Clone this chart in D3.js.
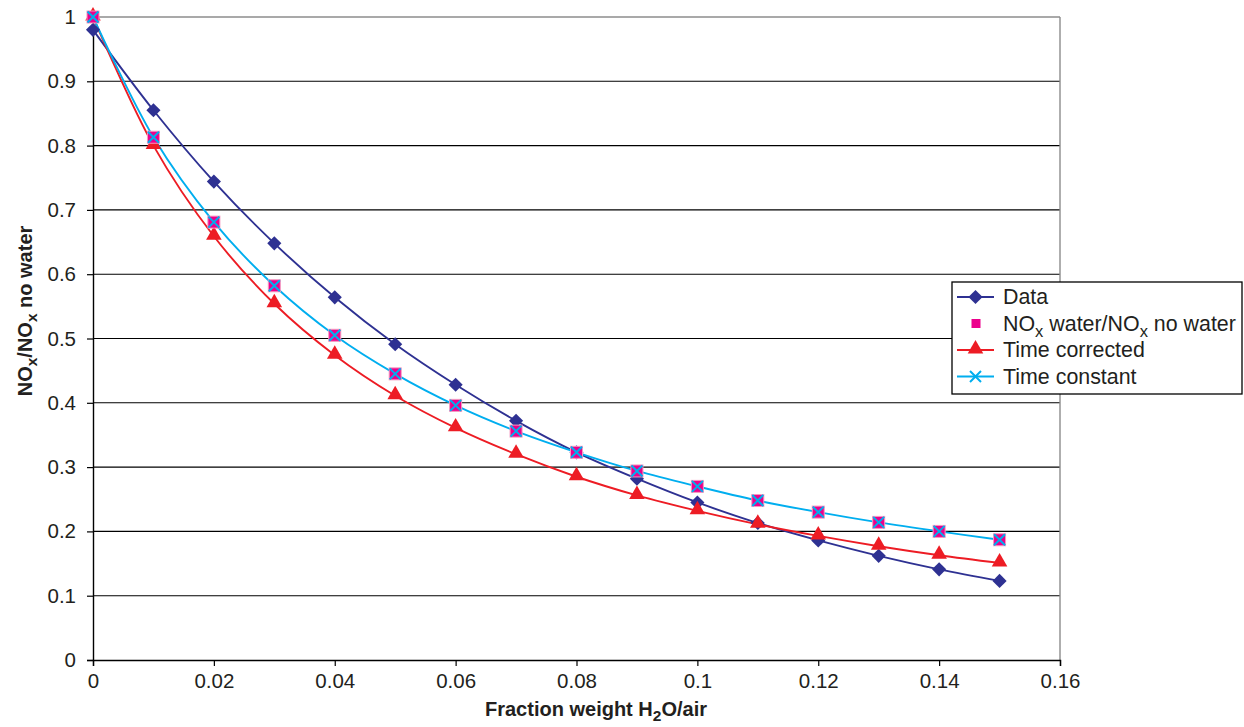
<!DOCTYPE html>
<html><head><meta charset="utf-8">
<script src="https://cdnjs.cloudflare.com/ajax/libs/d3/7.8.5/d3.min.js"></script>
<style>body{margin:0;background:#fff;} svg{display:block;font-family:Arial,"Liberation Sans",sans-serif;}</style>
</head><body>
<svg id="c" width="1244" height="727"></svg>
<script>
const xVals = [0,0.01,0.02,0.03,0.04,0.05,0.06,0.07,0.08,0.09,0.1,0.11,0.12,0.13,0.14,0.15];
const dataSeries = [0.980,0.855,0.744,0.648,0.564,0.491,0.428,0.372,0.323,0.282,0.245,0.213,0.186,0.162,0.141,0.123];
const noxRatio = [1.000,0.813,0.681,0.582,0.505,0.445,0.396,0.356,0.323,0.294,0.270,0.248,0.230,0.214,0.200,0.187];
const timeCorrected = [1.000,0.800,0.659,0.554,0.474,0.411,0.361,0.320,0.285,0.256,0.232,0.211,0.193,0.177,0.163,0.151];
const timeConstant = [1.000,0.813,0.681,0.582,0.505,0.445,0.396,0.356,0.323,0.294,0.270,0.248,0.230,0.214,0.200,0.187];
const xTicks = [0,0.02,0.04,0.06,0.08,0.1,0.12,0.14,0.16];
const yTicks = [0,0.1,0.2,0.3,0.4,0.5,0.6,0.7,0.8,0.9,1];

const svg = d3.select("#c");
const L=93, R=1060, T=17, B=660;
const x = d3.scaleLinear().domain([0,0.16]).range([L,R]);
const y = d3.scaleLinear().domain([0,1]).range([B,T]);
const txt = "#231f20";

// gridlines
svg.append("g").selectAll("line").data(yTicks.filter(d=>d>0&&d<1)).join("line")
  .attr("x1",L).attr("x2",R).attr("y1",d=>y(d)).attr("y2",d=>y(d))
  .attr("stroke","#000").attr("stroke-width",1.1);
// top and right border
svg.append("line").attr("x1",L).attr("x2",R).attr("y1",y(1)).attr("y2",y(1)).attr("stroke","#8c8c8c").attr("stroke-width",1.4);
svg.append("line").attr("x1",R).attr("x2",R).attr("y1",T).attr("y2",B).attr("stroke","#8c8c8c").attr("stroke-width",1.4);

// axes
const yAxis = d3.axisLeft(y).tickValues(yTicks).tickFormat(d3.format("~g")).tickSize(6).tickPadding(11);
const gy = svg.append("g").attr("transform",`translate(${L},0)`).call(yAxis);
const xAxis = d3.axisBottom(x).tickValues(xTicks).tickFormat(d3.format("~g")).tickSize(6).tickPadding(7);
const gx = svg.append("g").attr("transform",`translate(0,${B})`).call(xAxis);
[gx,gy].forEach(g=>{
  g.attr("font-size",null).attr("font-family",null);
  g.select(".domain").attr("stroke","#000").attr("stroke-width",1.4);
  g.selectAll(".tick line").attr("stroke","#000").attr("stroke-width",1.2);
  g.selectAll(".tick text").style("font-size","20.5px").attr("fill",txt);
});

// axis titles
const xt = svg.append("text").attr("x",596).attr("y",716).attr("text-anchor","middle")
  .style("font-size","20px").attr("font-weight","bold").attr("fill",txt);
xt.append("tspan").text("Fraction weight H");
xt.append("tspan").style("font-size","15.5px").attr("dy",5).text("2");
xt.append("tspan").attr("dy",-5).text("O/air");

const yt = svg.append("text").attr("transform",`translate(32,311) rotate(-90)`).attr("text-anchor","middle")
  .style("font-size","20px").attr("font-weight","bold").attr("fill",txt);
yt.append("tspan").text("NO");
yt.append("tspan").style("font-size","15.5px").attr("dy",5).text("x");
yt.append("tspan").attr("dy",-5).text("/NO");
yt.append("tspan").style("font-size","15.5px").attr("dy",5).text("x");
yt.append("tspan").attr("dy",-5).text(" no water");

const curve = d3.curveCatmullRom.alpha(0.5);
const line = vals => d3.line().curve(curve).x((d,i)=>x(xVals[i])).y(d=>y(d))(vals);

const cNavy="#2e3192", cMag="#ec008c", cRed="#ed1c24", cCyan="#00aeef";

svg.append("path").attr("d",line(dataSeries)).attr("fill","none").attr("stroke",cNavy).attr("stroke-width",1.9);
svg.append("path").attr("d",line(timeCorrected)).attr("fill","none").attr("stroke",cRed).attr("stroke-width",1.9);
svg.append("path").attr("d",line(timeConstant)).attr("fill","none").attr("stroke",cCyan).attr("stroke-width",1.9);

const sq = d3.symbol().type(d3.symbolSquare).size(100);
const tri = d3.symbol().type(d3.symbolTriangle).size(105);

function drawDiamond(g,cx,cy){g.append("path").attr("d",sq()).attr("transform",`translate(${cx},${cy}) rotate(45)`).attr("fill",cNavy);}
function drawSquare(g,cx,cy){g.append("rect").attr("x",cx-6).attr("y",cy-6).attr("width",12).attr("height",12).attr("fill",cMag).attr("stroke","#f49ac1").attr("stroke-width",1);}
function drawTri(g,cx,cy){g.append("path").attr("d",tri()).attr("transform",`translate(${cx},${cy-1})`).attr("fill",cRed);}
function drawX(g,cx,cy){g.append("path").attr("d",`M${cx-5.5},${cy-5.5}L${cx+5.5},${cy+5.5}M${cx-5.5},${cy+5.5}L${cx+5.5},${cy-5.5}`).attr("stroke",cCyan).attr("stroke-width",2);}

const gm = svg.append("g");
dataSeries.forEach((v,i)=>drawDiamond(gm,x(xVals[i]),y(v)));
timeCorrected.forEach((v,i)=>drawTri(gm,x(xVals[i]),y(v)));
noxRatio.forEach((v,i)=>drawSquare(gm,x(xVals[i]),y(v)));
timeConstant.forEach((v,i)=>drawX(gm,x(xVals[i]),y(v)));

// legend
const lg = svg.append("g");
lg.append("rect").attr("x",952).attr("y",282).attr("width",290).attr("height",112).attr("fill","#fff").attr("stroke","#000").attr("stroke-width",1.3);
const items = [
  {name:"Data",type:"d",color:cNavy,line:true},
  {name:null,type:"s",color:cMag,line:false},
  {name:"Time corrected",type:"t",color:cRed,line:true},
  {name:"Time constant",type:"x",color:cCyan,line:true}
];
items.forEach((it,i)=>{
  const cy = 297 + i*26.5;
  if(it.line) lg.append("line").attr("x1",957).attr("x2",994).attr("y1",cy).attr("y2",cy).attr("stroke",it.color).attr("stroke-width",1.9);
  if(it.type==="d") drawDiamond(lg,975.5,cy);
  if(it.type==="s") lg.append("rect").attr("x",971.5).attr("y",cy-4.5).attr("width",9).attr("height",9).attr("fill",cMag);
  if(it.type==="t") drawTri(lg,975.5,cy);
  if(it.type==="x") drawX(lg,975.5,cy);
  const t = lg.append("text").attr("x",1003).attr("y",cy+7).style("font-size","21.4px").attr("fill",txt);
  if(it.name) t.text(it.name);
  else {
    t.append("tspan").text("NO");
    t.append("tspan").style("font-size","16.5px").attr("dy",6).text("x");
    t.append("tspan").attr("dy",-6).text(" water/NO");
    t.append("tspan").style("font-size","16.5px").attr("dy",6).text("x");
    t.append("tspan").attr("dy",-6).text(" no water");
  }
});
</script>
</body></html>
